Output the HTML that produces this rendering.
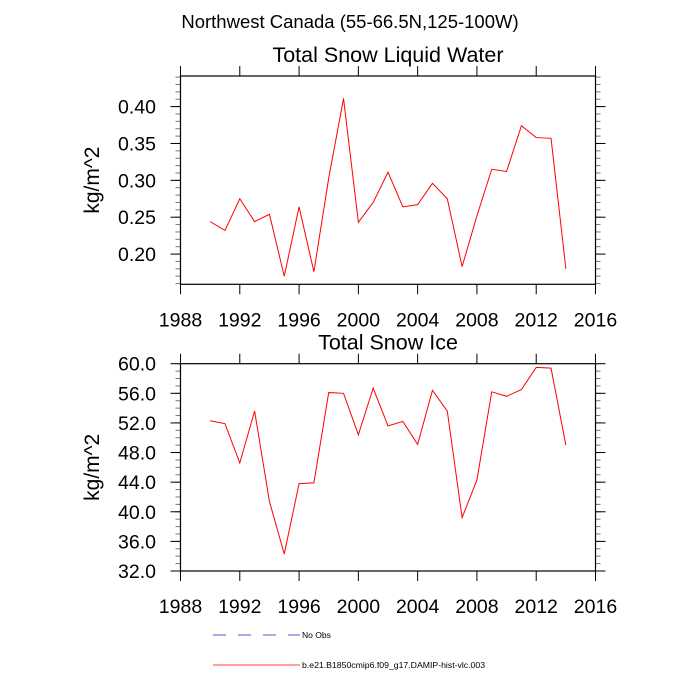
<!DOCTYPE html>
<html><head><meta charset="utf-8"><style>
body{margin:0;background:#fff}
svg{display:block;font-family:"Liberation Sans",Helvetica,Arial,sans-serif}
</style></head><body>
<svg id="c" width="700" height="700" viewBox="0 0 700 700">
<text x="350" y="28" font-size="18.5" text-anchor="middle">Northwest Canada (55-66.5N,125-100W)</text>
<g id="p1"></g>
<g id="p2"></g>
<g>
<line x1="213" y1="635" x2="300" y2="635" stroke="#5555cc" stroke-width="1" stroke-dasharray="13,12"/>
<text x="302" y="638" font-size="8.5">No Obs</text>
<line x1="213" y1="665" x2="300" y2="665" stroke="#ff4444" stroke-width="1"/>
<text x="302" y="668" font-size="8.7">b.e21.B1850cmip6.f09_g17.DAMIP-hist-vlc.003</text>
</g>
</svg>
<script>
const years = [1990,1991,1992,1993,1994,1995,1996,1997,1998,1999,2000,2001,2002,2003,2004,2005,2006,2007,2008,2009,2010,2011,2012,2013,2014];
const liquidWater = [0.244,0.232,0.275,0.244,0.254,0.170,0.264,0.176,0.303,0.411,0.243,0.270,0.311,0.264,0.267,0.296,0.275,0.183,0.252,0.315,0.312,0.374,0.358,0.357,0.180];
const snowIce = [52.3,51.9,46.6,53.6,41.4,34.3,43.8,43.9,56.1,56.0,50.4,56.7,51.6,52.2,49.1,56.4,53.6,39.2,44.3,56.2,55.6,56.5,59.5,59.4,49.0];
const xTicks = [1988,1992,1996,2000,2004,2008,2012,2016];
const yTicks1 = [0.20,0.25,0.30,0.35,0.40];
const yTickLabels1 = ["0.20","0.25","0.30","0.35","0.40"];
const yTicks2 = [32,36,40,44,48,52,56,60];
const yTickLabels2 = ["32.0","36.0","40.0","44.0","48.0","52.0","56.0","60.0"];

const NS="http://www.w3.org/2000/svg";
function mk(parent,tag,attrs){const e=document.createElementNS(NS,tag);for(const k in attrs)e.setAttribute(k,attrs[k]);parent.appendChild(e);return e;}

function panel(g,top,bot,ymin,ymax,yt,ytl,minorStep,title,vals,nm){
  const L=180.5,R=595.5;
  const xs=v=>L+(v-1988)/(2016-1988)*(R-L);
  const ys=v=>bot-(v-ymin)/(ymax-ymin)*(bot-top);
  const t=mk(g,'text',{x:388,y:top-14,'font-size':21.5,'text-anchor':'middle'});t.textContent=title;
  
  
  const yl=mk(g,'text',{x:0,y:0,'font-size':21,'text-anchor':'middle',transform:`translate(99,${(top+bot)/2}) rotate(-90)`});yl.textContent='kg/m^2';
  
  
  const lo=Math.ceil(ymin/minorStep-1e-6), hi=Math.floor(ymax/minorStep+1e-6);
  for(let i=lo;i<=hi;i++){const y=ys(i*minorStep);
    const a=mk(g,'line',{x1:L-5,y1:y,x2:L,y2:y,stroke:'#777','stroke-width':1});
    
    const b=mk(g,'line',{x1:R,y1:y,x2:R+5,y2:y,stroke:'#777','stroke-width':1});
    }
  yt.forEach((v,i)=>{const y=ys(v);
    const a=mk(g,'line',{x1:L-10,y1:y,x2:L,y2:y,stroke:'#000','stroke-width':1});
    
    const b=mk(g,'line',{x1:R,y1:y,x2:R+10,y2:y,stroke:'#000','stroke-width':1});
    
    const tx=mk(g,'text',{x:156,y:y+7,'font-size':19.5,'text-anchor':'end'});tx.textContent=ytl[i];
    });
  xTicks.forEach(v=>{const x=xs(v);
    const a=mk(g,'line',{x1:x,y1:bot,x2:x,y2:bot+10,stroke:'#000','stroke-width':1});
    
    const b=mk(g,'line',{x1:x,y1:top-10,x2:x,y2:top,stroke:'#000','stroke-width':1});
    
    const tx=mk(g,'text',{x:x,y:bot+42,'font-size':19.5,'text-anchor':'middle'});tx.textContent=v;
    });
  const fr=mk(g,'rect',{x:L,y:top,width:R-L,height:bot-top,fill:'none',stroke:'#000','stroke-width':1.2});
  
  
  const pts=years.map((yr,i)=>xs(yr).toFixed(2)+','+ys(vals[i]).toFixed(2)).join(' ');
  const pl=mk(g,'polyline',{points:pts,fill:'none',stroke:'#ff0000','stroke-width':1});
  
  
}
panel(document.getElementById('p1'),76,284.3,0.159,0.4415,yTicks1,yTickLabels1,0.01,'Total Snow Liquid Water',liquidWater,'liquid-water');
panel(document.getElementById('p2'),363.7,571,32,60,yTicks2,yTickLabels2,1,'Total Snow Ice',snowIce,'snow-ice');
</script>
</body></html>
